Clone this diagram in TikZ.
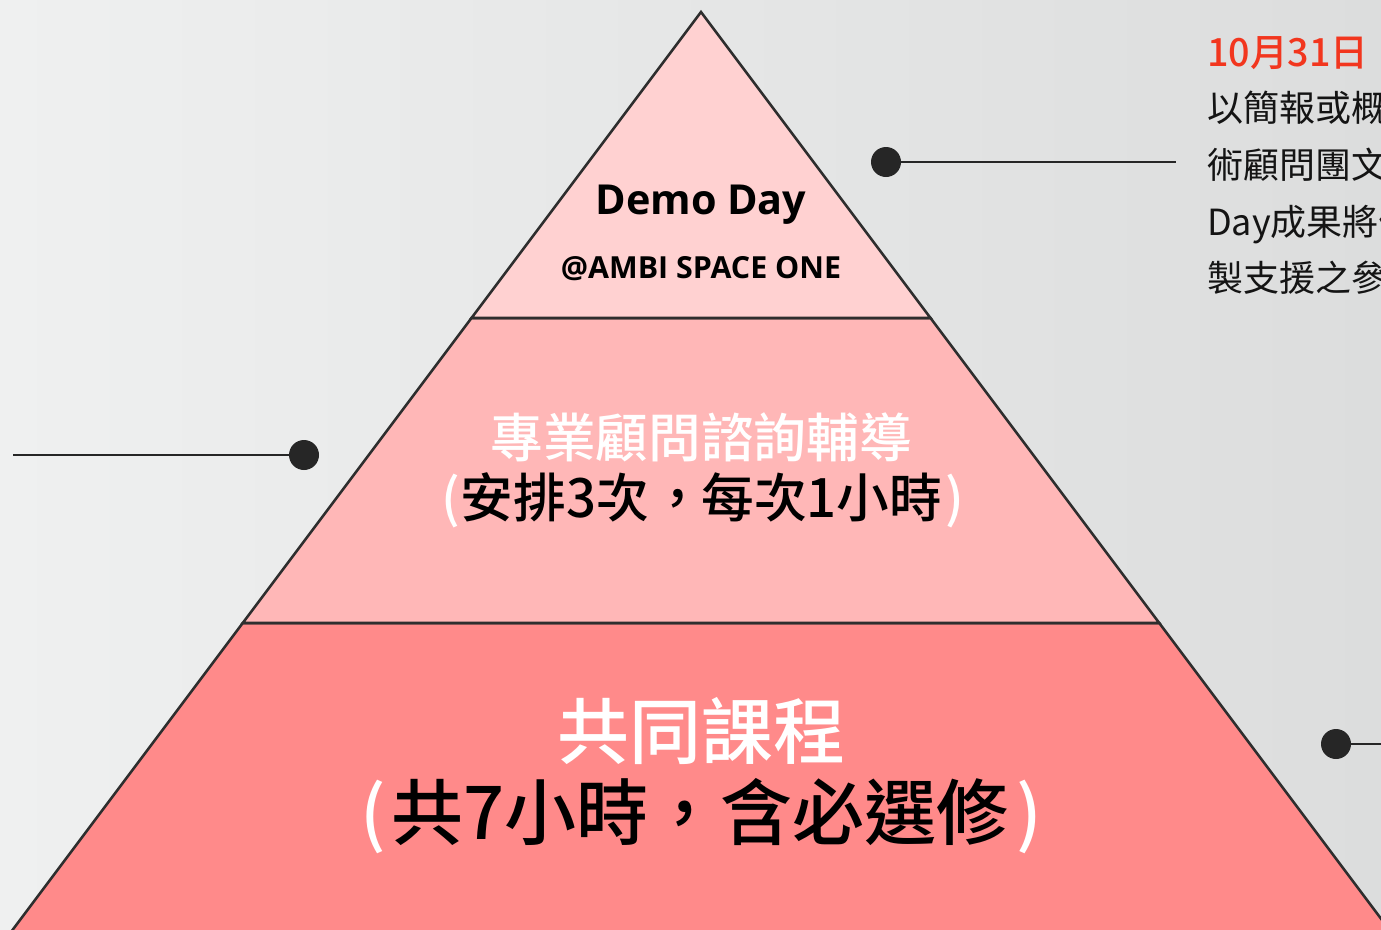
\documentclass[tikz,border=0pt]{standalone}
\usepackage{fontspec}
\setmainfont{Noto Sans CJK TC}[Script=CJK,Language=Chinese Traditional]
\newfontfamily\cjk{Noto Sans CJK TC}[Script=CJK,Language=Chinese Traditional]
\IfFontExistsTF{Noto Sans CJK TC Medium}
  {\newfontfamily\cjkm{Noto Sans CJK TC Medium}[Script=CJK,Language=Chinese Traditional]}
  {\newfontfamily\cjkm{Noto Sans CJK TC}[Script=CJK,Language=Chinese Traditional,UprightFont=*,UprightFeatures={FakeBold=1.5}]}
\newfontfamily\lat{Open Sans}
\newcommand{\midcomma}{\kern0.05em，\kern-0.05em}
\definecolor{bgl}{HTML}{EFF0F0}
\definecolor{bgr}{HTML}{DCDDDD}
\definecolor{tierA}{HTML}{FFD1D1}
\definecolor{tierB}{HTML}{FFB7B7}
\definecolor{tierC}{HTML}{FF8A8A}
\definecolor{edge}{HTML}{2E2E2E}
\definecolor{dotc}{HTML}{262626}
\definecolor{datered}{HTML}{F2361E}
\begin{document}
\begin{tikzpicture}[x=0.75pt,y=-0.75pt,
  tier/.style={draw=edge,line width=1.9pt,line join=miter},
  dot/.style={circle,fill=dotc,minimum size=22.5pt,inner sep=0pt},
  leader/.style={draw=dotc,line width=2.2pt},
  txt/.style={inner sep=0pt,outer sep=0pt,anchor=base},
  side/.style={inner sep=0pt,outer sep=0pt,anchor=base west,font=\cjk\fontsize{27}{27}\selectfont,text=black!92}]
\useasboundingbox (0,0) rectangle (1381,929);
\clip (0,0) rectangle (1381,929);
\shade[left color=bgl,right color=bgr] (0,0) rectangle (1381,929);
% pyramid tiers
\filldraw[tier,fill=tierC] (242.75,623) -- (1159.25,623) -- (1412,960) -- (-10,960) -- cycle;
\filldraw[tier,fill=tierB] (471.5,318) -- (930.5,318) -- (1159.25,623) -- (242.75,623) -- cycle;
\filldraw[tier,fill=tierA] (701,12) -- (930.5,318) -- (471.5,318) -- cycle;
% texts in pyramid
\node[txt,font=\lat\bfseries\fontsize{31}{31}\selectfont] (demo) at (701,214) {Demo Day};
\node[txt,font=\lat\bfseries\fontsize{22.8}{22.8}\selectfont] (ambi) at (701,278) {@AMBI SPACE ONE};
\node[txt,font=\cjkm\fontsize{39.5}{39.5}\selectfont,text=white] (mid1) at (701,457) {專業顧問諮詢輔導};
\node[txt,font=\cjkm\fontsize{39.5}{39.5}\selectfont] (mid2) at (703,517) {{\color{white}(}安排3次\midcomma 每次1小時{\color{white}\kern0.06em)}};
\node[txt,font=\cjkm\fontsize{54}{54}\selectfont,text=white] (bot1) at (701,758) {共同課程};
\node[txt,font=\cjkm\fontsize{54}{54}\selectfont] (bot2) at (701,839) {{\color{white}(\kern0.08em}共7小時，含必選修{\color{white}\kern0.1em)}};
% leaders
\node[dot] (d1) at (886,162) {};
\coordinate (e1) at (1176,162);
\draw[leader] (d1.center) -- (e1);
\node[dot] (d2) at (304,455) {};
\coordinate (e2) at (13,455);
\draw[leader] (d2.center) -- (e2);
\node[dot] (d3) at (1336,744) {};
\coordinate (e3) at (1400,744);
\draw[leader] (d3.center) -- (e3);
% side text
\node[side,font=\cjkm\fontsize{28.3}{28.3}\selectfont,text=datered] (date) at (1207,66) {10月31日};
\node[side] (l1) at (1207,121) {以簡報或概念};
\node[side] (l2) at (1207,178) {術顧問團文件};
\node[side] (l3) at (1207,235) {Day成果將作};
\node[side] (l4) at (1207,291) {製支援之參考};
\end{tikzpicture}
\end{document}
